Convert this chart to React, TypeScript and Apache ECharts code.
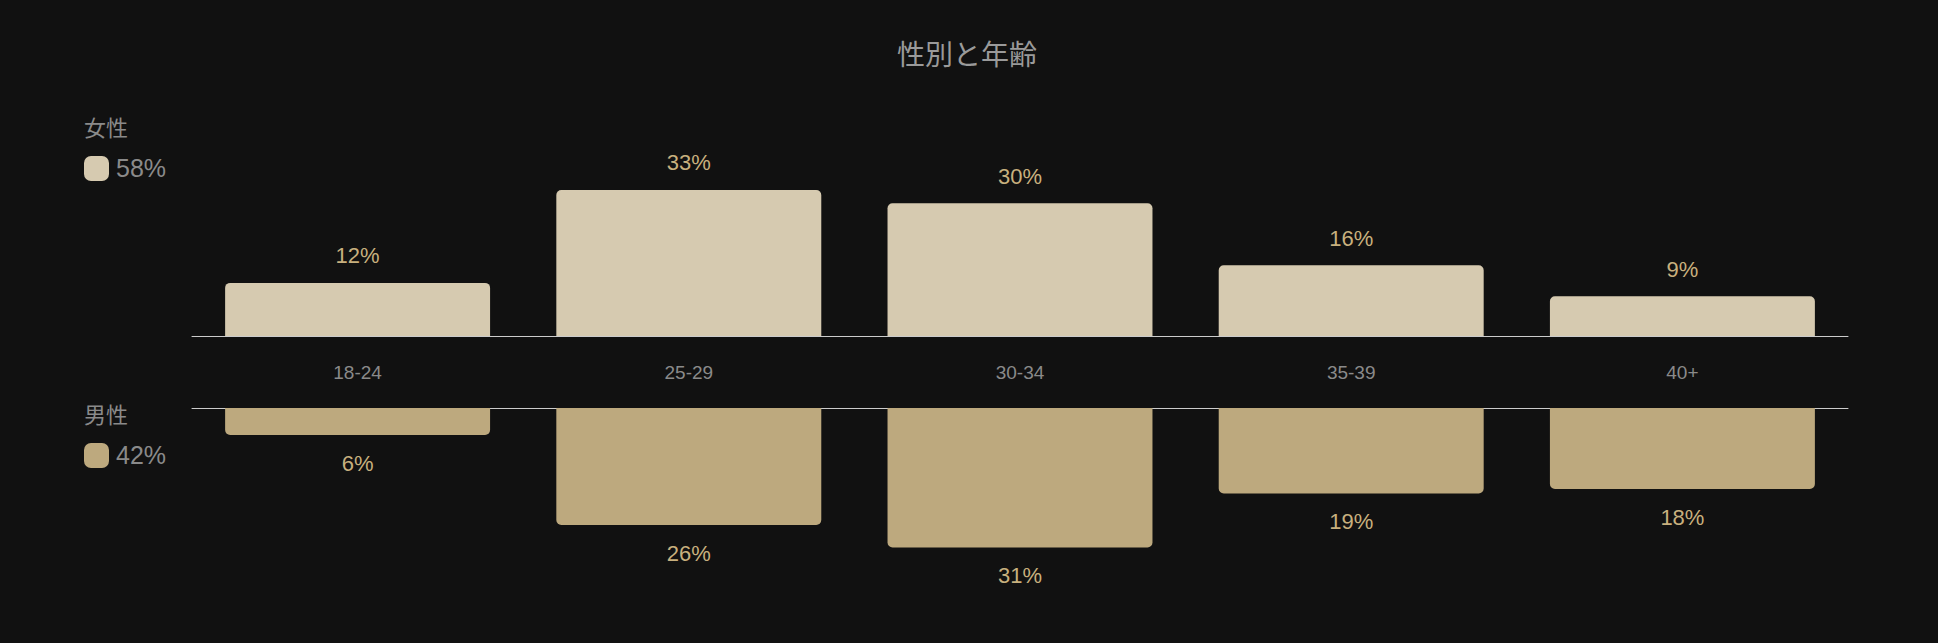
import { useEffect, useRef } from 'react'
import * as echarts from 'echarts'

const ageGroups = ['18-24', '25-29', '30-34', '35-39', '40+']
const femaleShare = [12, 33, 30, 16, 9]
const maleShare = [6, 26, 31, 19, 18]
const genderNames = ['女性', '男性']
const genderTotals = [58, 42]

const FONT = 'Liberation Sans, Arial, "Noto Sans CJK JP", sans-serif'
const FEMALE = '#d6cab0'
const MALE = '#bda97e'
const GOLD = '#c8b07e'
const MUTED = '#8a8a8a'

export default function App() {
  const chartRef = useRef<HTMLDivElement | null>(null)

  useEffect(() => {
    if (!chartRef.current) return
    const chart = echarts.init(chartRef.current, undefined, { renderer: 'svg' })

    // legend blocks on the left: name, then swatch + total
    const legendTops = [128, 415]
    const legendGraphics = genderNames.flatMap((name, i) => [
      {
        type: 'text',
        left: 84,
        top: legendTops[i] - 11,
        style: { text: name, fill: MUTED, fontSize: 22, fontFamily: FONT }
      },
      {
        type: 'rect',
        left: 84,
        top: legendTops[i] + 28,
        shape: { width: 25, height: 25, r: 7 },
        style: { fill: i === 0 ? FEMALE : MALE }
      },
      {
        type: 'text',
        left: 116,
        top: legendTops[i] + 27,
        style: { text: `${genderTotals[i]}%`, fill: MUTED, fontSize: 25, fontFamily: FONT }
      }
    ])

    chart.setOption({
      animation: false,
      backgroundColor: '#111111',
      textStyle: { fontFamily: FONT },
      title: {
        text: '性別と年齢',
        left: 962,
        top: 36,
        textAlign: 'center',
        textStyle: { color: '#9a9a9a', fontSize: 28, fontWeight: 'normal', fontFamily: FONT }
      },
      graphic: legendGraphics,
      grid: [
        { left: 192, right: 90, top: 159, height: 177 },
        { left: 192, right: 90, top: 408, height: 180 }
      ],
      xAxis: [
        {
          type: 'category',
          data: ageGroups,
          gridIndex: 0,
          axisLine: { lineStyle: { color: '#cccccc', width: 1 } },
          axisTick: { show: false },
          axisLabel: { color: MUTED, fontSize: 19, margin: 27, fontFamily: FONT }
        },
        {
          type: 'category',
          data: ageGroups,
          gridIndex: 1,
          position: 'top',
          axisLine: { lineStyle: { color: '#cccccc', width: 1 } },
          axisTick: { show: false },
          axisLabel: { show: false }
        }
      ],
      yAxis: [
        { type: 'value', gridIndex: 0, min: 0, max: 40, show: false },
        { type: 'value', gridIndex: 1, min: 0, max: 40, inverse: true, show: false }
      ],
      series: [
        {
          type: 'bar',
          name: '女性',
          data: femaleShare,
          xAxisIndex: 0,
          yAxisIndex: 0,
          barCategoryGap: '20%',
          itemStyle: { color: FEMALE, borderRadius: [5, 5, 0, 0] },
          label: {
            show: true,
            position: 'top',
            distance: 16,
            formatter: '{c}%',
            color: GOLD,
            fontSize: 22,
            fontFamily: FONT
          }
        },
        {
          type: 'bar',
          name: '男性',
          data: maleShare,
          xAxisIndex: 1,
          yAxisIndex: 1,
          barCategoryGap: '20%',
          itemStyle: { color: MALE, borderRadius: [0, 0, 5, 5] },
          label: {
            show: true,
            position: 'bottom',
            distance: 17,
            formatter: '{c}%',
            color: GOLD,
            fontSize: 22,
            fontFamily: FONT
          }
        }
      ]
    })

    const resize = () => chart.resize()
    window.addEventListener('resize', resize)
    return () => {
      window.removeEventListener('resize', resize)
      chart.dispose()
    }
  }, [])

  return (
    <div
      ref={chartRef}
      style={{ position: 'fixed', left: 0, top: 0, width: '100vw', height: '100vh', background: '#111111' }}
    />
  )
}
